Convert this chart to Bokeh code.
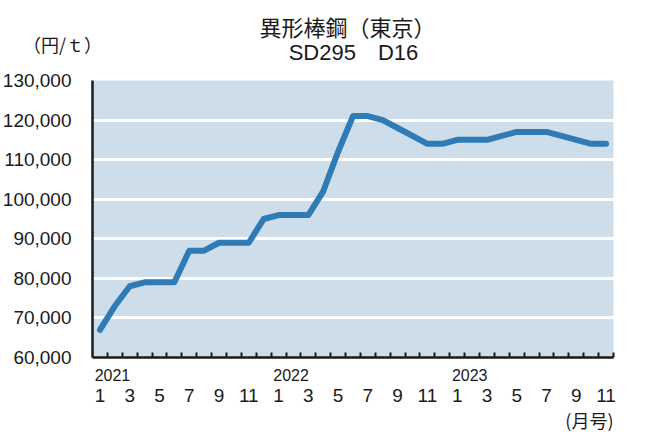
from bokeh.plotting import figure
from bokeh.models import (FixedTicker, LinearAxis, Label, Range1d, ColumnDataSource, Grid,
                          BoxAnnotation)
from bokeh.embed import file_html
from bokeh.resources import INLINE

# ---- data ----
years = ["2021", "2022", "2023"]
month_numbers = [1, 2, 3, 4, 5, 6, 7, 8, 9, 10, 11, 12,
                 1, 2, 3, 4, 5, 6, 7, 8, 9, 10, 11, 12,
                 1, 2, 3, 4, 5, 6, 7, 8, 9, 10, 11]
prices = [67000, 73000, 78000, 79000, 79000, 79000, 87000, 87000, 89000, 89000, 89000, 95000,
          96000, 96000, 96000, 102000, 112000, 121000, 121000, 120000, 118000, 116000, 114000, 114000,
          115000, 115000, 115000, 116000, 117000, 117000, 117000, 116000, 115000, 114000, 114000]
y_ticks = [60000, 70000, 80000, 90000, 100000, 110000, 120000, 130000]
title_main = "異形棒鋼（東京）"
title_sub = "SD295\u3000D16"
unit_y = "（円/ｔ）"
unit_x = "(月号)"

# ---- layout (pixels) ----
W, H = 638, 434
PL, PR, PT, PB = 92, 613, 80, 357          # plot-area edges on the canvas
n = len(prices)
x0, x1 = -0.5, n - 0.5
y0, y1 = y_ticks[0], y_ticks[-1]
ppx = (PR - PL) / (x1 - x0)
ppy = (PB - PT) / (y1 - y0)

idx = list(range(n))
src = ColumnDataSource(dict(x=idx, y=prices))

NUM_FONT = "'Liberation Sans', Arial, 'Noto Sans CJK JP'"
JP_FONT = "'Noto Sans CJK JP', 'Liberation Sans'"
INK = "#1a1a1a"

p = figure(width=W, height=H, output_backend="svg", toolbar_location=None,
           x_range=Range1d(x0 - PL / ppx, x1 + (W - PR) / ppx),
           y_range=Range1d(y0 - (H - PB) / ppy, y1 + PT / ppy),
           min_border=0, x_axis_location=None, y_axis_location=None)
p.title = None
p.outline_line_color = None
p.border_fill_color = "#ffffff"
p.background_fill_color = "#ffffff"
p.xgrid.visible = False
p.ygrid.visible = False

# plot-area background, then white grid lines on it
p.add_layout(BoxAnnotation(left=x0, right=x1, bottom=y0, top=y1, fill_color="#cddde9",
                           fill_alpha=1.0, line_color=None, level="underlay"))
p.add_layout(Grid(dimension=1, ticker=FixedTicker(ticks=y_ticks[1:-1]), grid_line_color="white",
                  grid_line_width=3, level="underlay"))

# y axis
yax = LinearAxis(ticker=FixedTicker(ticks=y_ticks), fixed_location=x0, bounds=(y0, y1))
yax.major_label_overrides = {v: f"{v:,}" for v in y_ticks}
yax.major_tick_line_color = None
yax.minor_tick_line_color = None
yax.axis_line_color = INK
yax.axis_line_width = 2.5
yax.major_label_standoff = 15
yax.major_label_text_font = NUM_FONT
yax.major_label_text_font_size = "19px"
yax.major_label_text_color = INK
p.add_layout(yax, "left")

# x axis: year labels + month boundary ticks
boundaries = [i + 0.5 for i in range(n)]
year_pos = [i * 12 + 0.84 for i in range(len(years))]
xax = LinearAxis(ticker=FixedTicker(ticks=year_pos, minor_ticks=boundaries),
                 fixed_location=y0, bounds=(x0, x1))
xax.major_label_overrides = {pos: y for pos, y in zip(year_pos, years)}
xax.major_tick_line_color = None
xax.minor_tick_in = 5
xax.minor_tick_out = 0
xax.minor_tick_line_color = INK
xax.minor_tick_line_width = 2
xax.axis_line_color = INK
xax.axis_line_width = 2.5
xax.major_label_standoff = 5
xax.major_label_text_font = NUM_FONT
xax.major_label_text_font_size = "16px"
xax.major_label_text_color = INK
p.add_layout(xax, "below")

# month labels
mpos = [i for i in idx if month_numbers[i] % 2 == 1]
max2 = LinearAxis(ticker=FixedTicker(ticks=mpos, minor_ticks=[]), fixed_location=y0,
                  bounds=(x0, x1))
max2.major_label_overrides = {i: str(month_numbers[i]) for i in mpos}
max2.axis_line_color = None
max2.major_tick_line_color = None
max2.minor_tick_line_color = None
max2.major_label_standoff = 25
max2.major_label_text_font = NUM_FONT
max2.major_label_text_font_size = "19px"
max2.major_label_text_color = INK
p.add_layout(max2, "below")

# line
p.line("x", "y", source=src, line_color="#2e7bb5", line_width=6, line_join="round", line_cap="round")

# texts (screen units: from the canvas' bottom-left corner)
p.add_layout(Label(x=347, y=H - 25, x_units="screen", y_units="screen", text=title_main,
                   text_align="center", text_baseline="middle", text_font=JP_FONT,
                   text_font_size="22px", text_color=INK))
p.add_layout(Label(x=353, y=H - 52, x_units="screen", y_units="screen", text=title_sub,
                   text_align="center", text_baseline="middle", text_font=NUM_FONT,
                   text_font_size="22px", text_color=INK))
p.add_layout(Label(x=62, y=H - 43, x_units="screen", y_units="screen", text=unit_y,
                   text_align="center", text_baseline="middle", text_font=JP_FONT,
                   text_font_size="18px", text_color=INK))
p.add_layout(Label(x=PR, y=H - 419, x_units="screen", y_units="screen", text=unit_x,
                   text_align="right", text_baseline="middle", text_font=JP_FONT,
                   text_font_size="18px", text_color=INK))

open("out.html", "w").write(file_html(p, INLINE))
